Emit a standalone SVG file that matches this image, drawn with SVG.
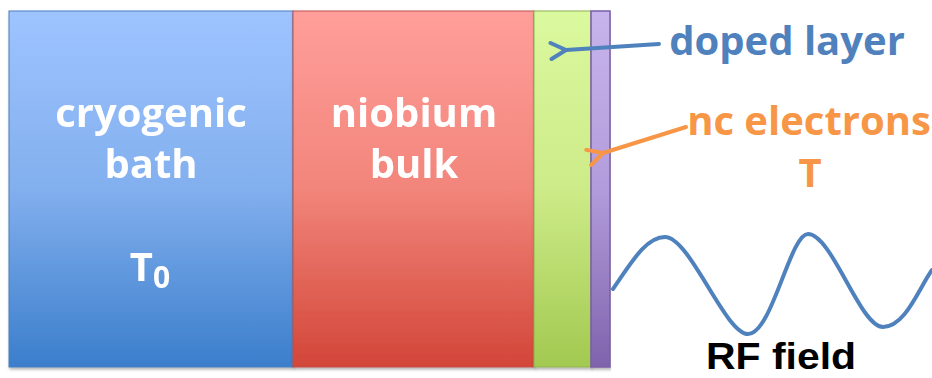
<svg xmlns="http://www.w3.org/2000/svg" width="932" height="378" viewBox="0 0 932 378">
<defs>
<linearGradient id="gBlue" x1="0" y1="0" x2="0" y2="1"><stop offset="0" stop-color="#9EC4FF"/><stop offset="0.5" stop-color="#82AFEE"/><stop offset="1" stop-color="#3B7ECB"/></linearGradient>
<linearGradient id="gRed" x1="0" y1="0" x2="0" y2="1"><stop offset="0" stop-color="#FF9E9A"/><stop offset="0.5" stop-color="#F2857B"/><stop offset="1" stop-color="#D24638"/></linearGradient>
<linearGradient id="gGreen" x1="0" y1="0" x2="0" y2="1"><stop offset="0" stop-color="#DBF99E"/><stop offset="0.5" stop-color="#CDEB88"/><stop offset="1" stop-color="#A2C950"/></linearGradient>
<linearGradient id="gPurple" x1="0" y1="0" x2="0" y2="1"><stop offset="0" stop-color="#C8B4EC"/><stop offset="0.5" stop-color="#B29CDB"/><stop offset="1" stop-color="#7F63AC"/></linearGradient>
<filter id="sh" x="-5%" y="-5%" width="110%" height="110%"><feDropShadow dx="1" dy="2" stdDeviation="1.5" flood-color="#000" flood-opacity="0.3"/></filter>
<marker id="arrB" viewBox="0 0 22 20" refX="3" refY="10" markerWidth="22" markerHeight="20" markerUnits="userSpaceOnUse" orient="auto"><path d="M18,2 L3,10 L18,18" fill="none" stroke="#4F81BD" stroke-width="4" stroke-linecap="round" stroke-linejoin="round"/></marker>
<marker id="arrO" viewBox="0 0 22 20" refX="3" refY="10" markerWidth="22" markerHeight="20" markerUnits="userSpaceOnUse" orient="auto"><path d="M18,2 L3,10 L18,18" fill="none" stroke="#F79646" stroke-width="4" stroke-linecap="round" stroke-linejoin="round"/></marker>
</defs>
<style>
.lbl{font-family:"Open Sans","Liberation Sans",sans-serif;font-weight:bold;text-anchor:middle;}
.w{fill:#FFFFFF;font-size:40px;}
</style>
<rect width="932" height="378" fill="#FFFFFF"/>
<g id="bath" filter="url(#sh)">
<rect x="9" y="11" width="284" height="356" fill="url(#gBlue)" stroke="#4A7EC0" stroke-width="1"/>
<text class="lbl w" x="151" y="127">cryogenic</text>
<text class="lbl w" x="151" y="178">bath</text>
<text class="lbl w" x="150" y="281">T<tspan font-size="30" dy="7">0</tspan></text>
</g>
<g id="bulk" filter="url(#sh)">
<rect x="293" y="11" width="241" height="356" fill="url(#gRed)" stroke="#C0504D" stroke-width="1"/>
<text class="lbl w" x="414" y="127">niobium</text>
<text class="lbl w" x="414" y="178">bulk</text>
</g>
<g id="doped" filter="url(#sh)">
<rect x="534" y="11" width="57" height="356" fill="url(#gGreen)" stroke="#8DB155" stroke-width="1"/>
</g>
<g id="electrons" filter="url(#sh)">
<rect x="591" y="11" width="19" height="356" fill="url(#gPurple)" stroke="#7A5FA8" stroke-width="1.5"/>
</g>
<g id="connectors" fill="none" stroke-width="4" stroke-linecap="round">
<path d="M659,44 L566,50" stroke="#4F81BD" marker-end="url(#arrB)"/>
<path d="M686,127 L603,153" stroke="#F79646" marker-end="url(#arrO)"/>
</g>
<g id="labels">
<text class="lbl" x="787" y="55" font-size="40" fill="#4F81BD">doped layer</text>
<text class="lbl" x="809" y="135" font-size="40" fill="#F79646">nc electrons</text>
<text class="lbl" x="810" y="187" font-size="40" fill="#F79646">T</text>
</g>
<g id="rf">
<path d="M613,289 C630,265 645,237 665,237 C690,237 725,334 748,334 C772,334 790,234 808,234 C832,234 860,327 883,327 C905,327 918,290 932,270" fill="none" stroke="#4F81BD" stroke-width="4" stroke-linecap="round"/>
<text x="706" y="369" font-family="'Liberation Sans',Arial,sans-serif" font-weight="bold" font-size="36" fill="#000" textLength="150" lengthAdjust="spacingAndGlyphs">RF field</text>
</g>
</svg>
